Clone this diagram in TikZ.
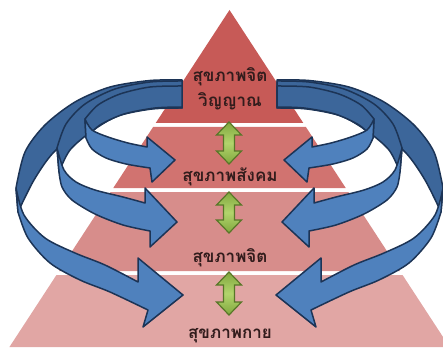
\documentclass[tikz,border=0pt]{standalone}
\usepackage{fontspec}
\newfontfamily\thaifont[Script=Thai]{Loma}

\definecolor{pyrA}{RGB}{199,90,87}
\definecolor{pyrB}{RGB}{209,115,112}
\definecolor{pyrC}{RGB}{215,141,139}
\definecolor{pyrD}{RGB}{225,166,164}
\definecolor{labelink}{RGB}{50,28,28}
\definecolor{bluefront}{RGB}{79,129,189}
\definecolor{blueback}{RGB}{60,102,154}
\definecolor{blueedge}{RGB}{28,52,86}
\definecolor{greenlight}{RGB}{178,212,108}
\definecolor{greendark}{RGB}{128,168,62}
\definecolor{greenedge}{RGB}{88,118,40}

% half width of the pyramid at height y (apex at y=10)
\newcommand\pyrhw[1]{0.653*(#1-10)}

% one pyramid layer between y=#1 and y=#2
\newcommand\pyrlayer[3]{%
  \fill[#3] ({229.5-\pyrhw{#1}},#1) -- ({229.5+\pyrhw{#1}},#1)
    -- ({229.5+\pyrhw{#2}},#2) -- ({229.5-\pyrhw{#2}},#2) -- cycle;}

% vertical double arrow centred at x=#1 from y=#2 to y=#3
\newcommand\linkarrow[3]{%
  \path[linkstyle] (#1,#2) -- ({#1+12.5},{#2+13}) -- ({#1+5.5},{#2+13})
    -- ({#1+5.5},{#3-13}) -- ({#1+12.5},{#3-13}) -- (#1,#3)
    -- ({#1-12.5},{#3-13}) -- ({#1-5.5},{#3-13}) -- ({#1-5.5},{#2+13})
    -- ({#1-12.5},{#2+13}) -- cycle;}

% the three curved ribbons of one side (left side; mirrored for the right)
\newcommand\drawribbons{%
  % outer ribbon
  \path[ribbonback] plot[smooth] coordinates {(182,80) (150,80.5) (110,87) (75,102) (45,125) (25,152) (16,188)}
    -- plot[smooth] coordinates {(18,212) (34,180) (53,153) (81,130) (114,115) (152,108.5) (182,108)} -- cycle;
  \path[ribbonfront] plot[smooth] coordinates {(16,188) (24,215) (45,238) (75,253) (105,265) (138,282)}
    -- (138,258) -- (183,295) -- (143,327)
    -- plot[smooth] coordinates {(148,310) (110,292) (80,280) (50,263) (28,238) (18,212)} -- cycle;
  % middle ribbon
  \path[ribbonback] plot[smooth] coordinates {(182,81) (150,82) (115,89) (85,104) (66,124) (57,148)}
    -- plot[smooth] coordinates {(59,172) (70,150) (92,131) (118,116) (152,109) (182,108)} -- cycle;
  \path[ribbonfront] plot[smooth] coordinates {(57,148) (64,170) (76,182) (95,190) (123,197) (145,203)}
    -- (145,188) -- (177,222) -- (150,247)
    -- plot[smooth] coordinates {(150,231) (123,225) (95,214) (72,200) (62,187) (59,172)} -- cycle;
  % inner ribbon
  \path[ribbonback] plot[smooth] coordinates {(182,86) (150,87) (120,94) (98,105) (85,119)}
    -- plot[smooth] coordinates {(86,138) (100,125) (124,114) (155,108) (182,107)} -- cycle;
  \path[ribbonfront] plot[smooth] coordinates {(85,119) (92,130) (108,137) (128,143) (147,147)}
    -- (147,137) -- (175,160) -- (152,182)
    -- plot[smooth] coordinates {(150,168) (126,164) (106,158) (92,149) (86,138)} -- cycle;
}

\begin{document}
\begin{tikzpicture}[x=1pt,y=-1pt,
  ribbonback/.style={fill=blueback, draw=blueedge, line width=1.5pt, line join=round},
  ribbonfront/.style={fill=bluefront, draw=blueedge, line width=1.5pt, line join=round},
  linkstyle/.style={left color=greendark, right color=greendark, middle color=greenlight,
    shading angle=0, draw=greenedge, line width=1.2pt, line join=miter},
  lbl/.style={font=\thaifont\bfseries\fontsize{17}{20}\selectfont, text=labelink,
    inner sep=0pt, anchor=base}]
  \useasboundingbox (0,0) rectangle (443,347);
  \clip (0,0) rectangle (443,347);

  % pyramid layers
  \fill[pyrA] (229.5,10) -- ({229.5+\pyrhw{123}},123) -- ({229.5-\pyrhw{123}},123) -- cycle;
  \pyrlayer{127}{188}{pyrB}
  \pyrlayer{192}{271}{pyrC}
  \pyrlayer{275}{347}{pyrD}

  % curved ribbons, left and right
  \drawribbons
  \begin{scope}[xshift=459pt, xscale=-1]
    \drawribbons
  \end{scope}

  % links between the layers
  \linkarrow{229}{122}{164}
  \linkarrow{229}{192}{233}
  \linkarrow{229}{272}{315}

  % layer labels
  \node[lbl] (spirit1) at (230,82) {สุขภาพจิต};
  \node[lbl] (spirit2) at (230,107) {วิญญาณ};
  \node[lbl] (social) at (230,182) {สุขภาพสังคม};
  \node[lbl] (mental) at (230,262) {สุขภาพจิต};
  \node[lbl] (physical) at (230,338) {สุขภาพกาย};
\end{tikzpicture}
\end{document}
